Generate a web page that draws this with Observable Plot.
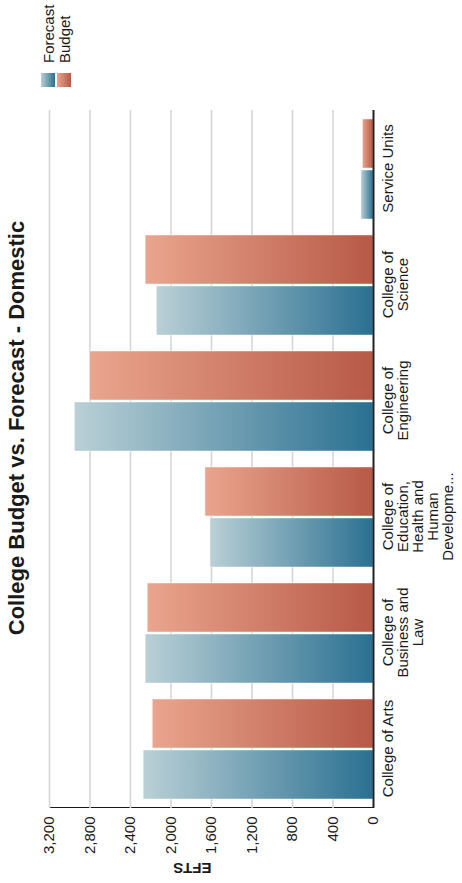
<!DOCTYPE html>
<html>
<head>
<meta charset="utf-8">
<script src="https://cdn.jsdelivr.net/npm/d3@7"></script>
<script src="https://cdn.jsdelivr.net/npm/@observablehq/plot@0.6"></script>
<style>
  html, body { margin: 0; padding: 0; background: #fff; overflow: hidden; }
  body { width: 462px; height: 883px; position: relative; }
  /* The chart is laid out landscape and turned a quarter turn counter-clockwise */
  #stage {
    position: absolute; left: 0; top: 0;
    width: 883px; height: 462px;
    transform-origin: 0 0;
    transform: translate(0px, 883px) rotate(-90deg);
    font-family: "Liberation Sans", Arial, sans-serif;
    color: #1a1a1a;
  }
  #stage svg { position: absolute; left: 0; top: 0; }
  #title {
    position: absolute; left: 455px; top: 4px; transform: translateX(-50%);
    font-size: 22px; font-weight: bold; white-space: nowrap;
  }
  #legend { position: absolute; left: 796px; top: 40px; font-size: 15px; }
  #legend .row { display: flex; align-items: center; height: 16px; }
  #legend .sw { width: 14px; height: 14px; margin-right: 10px; }
</style>
</head>
<body>
<div id="stage">
  <div id="title">College Budget vs. Forecast - Domestic</div>
  <div id="legend"></div>
</div>
<script>
const colleges = [
  "College of Arts",
  "College of Business and Law",
  "College of Education, Health and Human Development",
  "College of Engineering",
  "College of Science",
  "Service Units"
];
const collegeLabels = [
  "College of Arts",
  "College of\nBusiness and\nLaw",
  "College of\nEducation,\nHealth and\nHuman\nDevelopme...",
  "College of\nEngineering",
  "College of\nScience",
  "Service Units"
];
const forecast = [2270, 2250, 1610, 2950, 2140, 120];
const budget = [2180, 2230, 1660, 2800, 2250, 105];
const yTicks = [0, 400, 800, 1200, 1600, 2000, 2400, 2800, 3200];
const seriesNames = ["Forecast", "Budget"];
const seriesColors = {
  Forecast: ["#bad0d6", "#2a7091"],
  Budget: ["#eaa58e", "#b75946"]
};

const rows = colleges.map((c, i) => ({
  college: c, label: collegeLabels[i], forecast: forecast[i], budget: budget[i]
}));

const chart = Plot.plot({
  width: 883,
  height: 462,
  marginTop: 49,
  marginBottom: 89,
  marginLeft: 75,
  marginRight: 110,
  style: { fontFamily: "Liberation Sans, Arial, sans-serif", fontSize: "15px", color: "#1a1a1a", background: "transparent" },
  x: { domain: colleges, paddingInner: 0.14, paddingOuter: 0.07, axis: null },
  y: { domain: [0, 3200], ticks: yTicks, tickFormat: d3.format(","), tickSize: 0, tickPadding: 9, label: null, line: true },
  marks: [
    Plot.ruleY(yTicks.filter(d => d > 0), { stroke: "#d6d6d6", strokeWidth: 1.6 }),
    Plot.barY(rows, { x: "college", y: "forecast", fill: "url(#grad-Forecast)", insetRight: 51, stroke: "#ffffff", strokeOpacity: 0.45, strokeWidth: 1 }),
    Plot.barY(rows, { x: "college", y: "budget", fill: "url(#grad-Budget)", insetLeft: 51, stroke: "#ffffff", strokeOpacity: 0.45, strokeWidth: 1 }),
    Plot.ruleY([0], { stroke: "#222", strokeWidth: 2 }),
    Plot.text(rows, { x: "college", text: "label", frameAnchor: "bottom", lineAnchor: "top", dy: 9, fontSize: 15, lineHeight: 1, fill: "#1a1a1a" }),
    Plot.text(["EFTS"], { frameAnchor: "left", dx: -60, rotate: -90, fontSize: 15, fontWeight: "bold", fill: "#1a1a1a" })
  ]
});

// Vertical gradients used by the bars: light at the bar end, dark at the baseline
const defs = d3.select(chart).insert("defs", ":first-child");
for (const name of seriesNames) {
  const g = defs.append("linearGradient").attr("id", "grad-" + name)
    .attr("x1", 0).attr("y1", 0).attr("x2", 0).attr("y2", 1);
  g.append("stop").attr("offset", "0%").attr("stop-color", seriesColors[name][0]);
  g.append("stop").attr("offset", "100%").attr("stop-color", seriesColors[name][1]);
}
document.getElementById("stage").insertBefore(chart, document.getElementById("title"));

// Legend
const legend = d3.select("#legend");
for (const name of seriesNames) {
  const row = legend.append("div").attr("class", "row");
  row.append("div").attr("class", "sw")
    .style("background", `linear-gradient(to bottom, ${seriesColors[name][0]}, ${seriesColors[name][1]})`);
  row.append("span").text(name);
}
</script>
</body>
</html>
